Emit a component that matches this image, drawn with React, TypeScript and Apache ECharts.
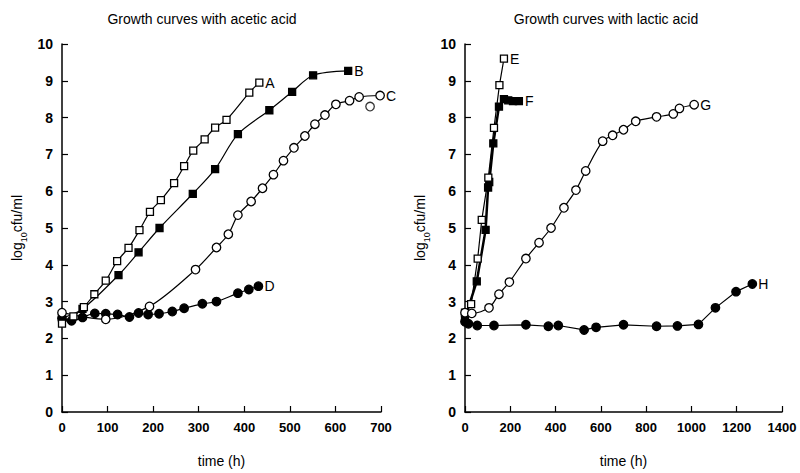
import React, { useEffect, useRef } from 'react';
import * as echarts from 'echarts';

// Acetic acid panel
const tA = [0, 25, 48, 71, 96, 121, 146, 170, 193, 217, 246, 268, 288, 313, 336, 361, 411, 433];
const vA = [2.4, 2.6, 2.85, 3.2, 3.57, 4.1, 4.46, 4.94, 5.44, 5.76, 6.22, 6.68, 7.1, 7.41, 7.73, 7.94, 8.68, 8.95];
const tB = [0, 45, 124, 168, 214, 287, 336, 386, 455, 505, 551, 628];
const vB = [2.55, 2.8, 3.72, 4.34, 5.0, 5.93, 6.6, 7.55, 8.2, 8.7, 9.15, 9.27];
const tC = [0, 96, 192, 293, 339, 365, 386, 415, 440, 464, 486, 509, 533, 555, 577, 601, 631, 652, 698];
const vC = [2.7, 2.52, 2.87, 3.87, 4.47, 4.83, 5.35, 5.72, 6.08, 6.45, 6.83, 7.18, 7.5, 7.82, 8.07, 8.36, 8.46, 8.56, 8.6];
const tCout = [676];
const vCout = [8.3];
const tD = [0, 21, 45, 72, 96, 122, 148, 168, 189, 213, 242, 268, 308, 339, 386, 410, 431];
const vD = [2.55, 2.48, 2.57, 2.68, 2.67, 2.65, 2.58, 2.69, 2.65, 2.67, 2.73, 2.82, 2.94, 3.0, 3.23, 3.33, 3.42];

// Lactic acid panel
const tE = [0, 27, 56, 74, 103, 128, 152, 172];
const vE = [2.7, 2.93, 4.17, 5.22, 6.37, 7.72, 8.88, 9.6];
const tF = [0, 52, 91, 102, 107, 125, 150, 172, 191, 212, 238];
const vF = [2.55, 3.55, 4.95, 6.1, 6.25, 7.3, 8.3, 8.5, 8.47, 8.45, 8.45];
const tG = [0, 30, 106, 150, 196, 269, 327, 380, 437, 490, 533, 608, 652, 700, 754, 846, 920, 947, 1012];
const vG = [2.7, 2.68, 2.83, 3.2, 3.53, 4.17, 4.6, 5.0, 5.55, 6.03, 6.55, 7.36, 7.52, 7.67, 7.9, 8.02, 8.1, 8.25, 8.35];
const tH = [0, 15, 54, 128, 269, 368, 412, 526, 579, 700, 846, 938, 1031, 1106, 1197, 1269];
const vH = [2.45, 2.4, 2.35, 2.35, 2.37, 2.33, 2.35, 2.23, 2.3, 2.37, 2.33, 2.34, 2.38, 2.83, 3.27, 3.48];

const titles = ['Growth curves with acetic acid', 'Growth curves with lactic acid'];
const xMax = [700, 1400];
const xStep = [100, 200];

const zip = (t: number[], v: number[]) => t.map((x, i) => [x, v[i]]);

function mk(label: string, t: number[], v: number[], symbol: string, filled: boolean, axis: number, lw = 1.2, smooth: any = 0.3) {
  return {
    type: 'line',
    name: label,
    xAxisIndex: axis,
    yAxisIndex: axis,
    data: zip(t, v),
    smooth,
    symbol,
    symbolSize: symbol === 'rect' ? 7 : 8.5,
    showAllSymbol: true,
    lineStyle: { color: '#000', width: lw },
    itemStyle: { color: filled ? '#000' : '#fff', borderColor: '#000', borderWidth: 1.3 },
    endLabel: {
      show: label !== '',
      formatter: label,
      color: '#000',
      fontSize: 14,
      fontFamily: 'Liberation Sans, Arial, sans-serif',
      distance: 6,
    },
    emphasis: { disabled: true },
    z: filled ? 3 : 4,
  };
}

export default function App() {
  const ref = useRef<HTMLDivElement>(null);
  useEffect(() => {
    if (!ref.current) return;
    const chart = echarts.init(ref.current, null, { renderer: 'svg' });
    const font = 'Liberation Sans, Arial, sans-serif';
    const grids = [
      { left: 62, top: 44, width: 319, height: 373 },
      { left: 465, top: 44, width: 317, height: 373 },
    ];
    const xAxis = [0, 1].map((i) => ({
      type: 'value',
      gridIndex: i,
      min: 0,
      max: xMax[i],
      interval: xStep[i],
      name: 'time (h)',
      nameLocation: 'middle',
      nameGap: 42,
      nameTextStyle: { color: '#000', fontSize: 14, fontFamily: font },
      axisLine: { show: true, lineStyle: { color: '#000', width: 1.5 } },
      axisTick: { show: true, inside: true, length: 6, lineStyle: { color: '#000', width: 1.2 } },
      axisLabel: { color: '#000', fontSize: 13, fontWeight: 'bold', fontFamily: font, margin: 9, formatter: (v: number) => String(v) },
      splitLine: { show: false },
    }));
    const yAxis = [0, 1].map((i) => ({
      type: 'value',
      gridIndex: i,
      min: 0,
      max: 10,
      interval: 1,
      name: '{a|log}{b|10}{a|cfu/ml}',
      nameLocation: 'middle',
      nameGap: 38,
      nameRotate: 90,
      nameTextStyle: {
        color: '#000',
        fontFamily: font,
        rich: {
          a: { fontSize: 14, fontFamily: font, color: '#000', lineHeight: 18, verticalAlign: 'bottom' },
          b: { fontSize: 9, fontFamily: font, color: '#000', lineHeight: 18, verticalAlign: 'bottom', padding: [0, 0, -4, 0] },
        },
      },
      axisLine: { show: true, lineStyle: { color: '#000', width: 1.5 } },
      axisTick: { show: true, inside: true, length: 6, lineStyle: { color: '#000', width: 1.2 } },
      axisLabel: { color: '#000', fontSize: 14, fontWeight: 'bold', fontFamily: font, margin: 9 },
      splitLine: { show: false },
    }));
    chart.setOption({
      animation: false,
      backgroundColor: '#fff',
      title: [
        { text: titles[0], left: 197, top: 7, textAlign: 'center', textStyle: { fontSize: 14, fontWeight: 'normal', color: '#000', fontFamily: font } },
        { text: titles[1], left: 601, top: 7, textAlign: 'center', textStyle: { fontSize: 14, fontWeight: 'normal', color: '#000', fontFamily: font } },
      ],
      grid: grids,
      xAxis,
      yAxis,
      series: [
        mk('A', tA, vA, 'rect', false, 0),
        mk('B', tB, vB, 'rect', true, 0),
        mk('C', tC, vC, 'circle', false, 0),
        {
          type: 'scatter',
          xAxisIndex: 0,
          yAxisIndex: 0,
          data: zip(tCout, vCout),
          symbol: 'circle',
          symbolSize: 8.5,
          itemStyle: { color: '#fff', borderColor: '#000', borderWidth: 1.3 },
          z: 4,
        },
        mk('D', tD, vD, 'circle', true, 0),
        mk('E', tE, vE, 'rect', false, 1, 1.2, false),
        mk('F', tF, vF, 'rect', true, 1, 2.5, false),
        mk('G', tG, vG, 'circle', false, 1),
        mk('H', tH, vH, 'circle', true, 1, 1.2, false),
      ],
    });
    return () => chart.dispose();
  }, []);
  return <div ref={ref} style={{ width: 800, height: 473, position: 'absolute', left: 0, top: 0 }} />;
}
